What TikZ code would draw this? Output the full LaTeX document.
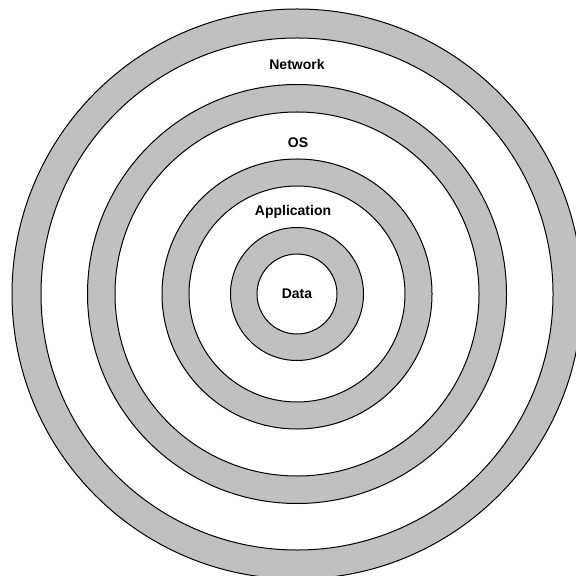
\documentclass[tikz,border=0pt]{standalone}
\usepackage{fontspec}
\setmainfont{Liberation Sans}
\definecolor{ringgray}{RGB}{192,192,192}
\begin{document}
\begin{tikzpicture}[x=0.5pt,y=-0.5pt,font=\fontsize{7}{8}\selectfont\bfseries]
    \useasboundingbox (0,0) rectangle (576,576);
    \clip (0,0) rectangle (576,576);
    \coordinate (c) at (297,294);
    % grey bands, outer to inner
    \foreach \ro/\ri in {285/256,209.5/182,135/108,66.5/40} {
        \draw[line width=0.5pt,fill=ringgray] (c) circle (\ro);
        \draw[line width=0.5pt,fill=white] (c) circle (\ri);
    }
    \node (network) at (297,65) {Network};
    \node (os) at (298,143) {OS};
    \node (app) at (293,212) {Application};
    \node (data) at (297,294) {Data};
\end{tikzpicture}
\end{document}
